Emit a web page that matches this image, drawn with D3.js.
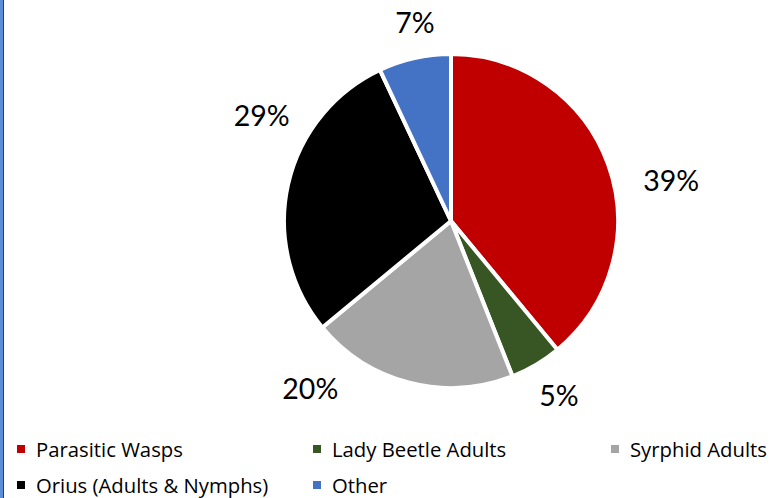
<!DOCTYPE html>
<html>
<head>
<meta charset="utf-8">
<script src="https://cdn.jsdelivr.net/npm/d3@7"></script>
<style>
  html, body { margin: 0; padding: 0; background: #fff; }
  svg { display: block; }
</style>
</head>
<body>
<svg id="chart" width="783" height="498"></svg>
<script>
const categories = ["Parasitic Wasps", "Lady Beetle Adults", "Syrphid Adults", "Orius (Adults & Nymphs)", "Other"];
const values = [39, 5, 20, 29, 7];
const colors = ["#C00000", "#375623", "#A5A5A5", "#000000", "#4472C4"];

// layout (label placement in polar terms: degrees clockwise from top, distance from centre)
const labelPolar = [[79.4, 224], [148.2, 205], [220.2, 218], [299.3, 217], [349.7, 202]];

const W = 783, H = 498;
const cx = 451, cy = 221, R = 167;
const svg = d3.select("#chart");

// left border
svg.append("rect").attr("x", 0).attr("y", 0).attr("width", 3).attr("height", H).attr("fill", "#5B8FD9");
svg.append("line").attr("x1", 3.5).attr("x2", 3.5).attr("y1", 0).attr("y2", H).attr("stroke", "#2a3f66").attr("stroke-width", 1);

const pie = d3.pie().sort(null).value(d => d)(values);
const arc = d3.arc().innerRadius(0).outerRadius(R);

const g = svg.append("g").attr("transform", `translate(${cx},${cy})`);
g.selectAll("path.slice").data(pie).join("path")
  .attr("class", "slice")
  .attr("d", arc)
  .attr("fill", (d, i) => colors[i])
  .attr("stroke", "#fff")
  .attr("stroke-width", 4)
  .attr("stroke-linejoin", "round");

const fmt = v => d3.format(".0%")(v / d3.sum(values));
g.selectAll("text.lbl").data(pie).join("text")
  .attr("class", "lbl")
  .attr("x", (d, i) => labelPolar[i][1] * Math.sin(labelPolar[i][0] * Math.PI / 180))
  .attr("y", (d, i) => -labelPolar[i][1] * Math.cos(labelPolar[i][0] * Math.PI / 180))
  .attr("text-anchor", "middle")
  .attr("dominant-baseline", "central")
  .attr("font-family", "Lato, 'Open Sans', sans-serif")
  .attr("font-size", 28.5)
  .attr("fill", "#000")
  .text(d => fmt(d.data));

// legend
const legendCols = [17, 313, 611];
const legendRows = [449, 485];
const leg = svg.append("g");
categories.forEach((c, i) => {
  const col = i % 3, row = Math.floor(i / 3);
  const x = legendCols[col], y = legendRows[row];
  leg.append("rect").attr("x", x).attr("y", y - 4).attr("width", 8).attr("height", 8).attr("fill", colors[i]);
  leg.append("text").attr("x", x + 19).attr("y", y)
    .attr("dominant-baseline", "central")
    .attr("font-family", "'Open Sans', sans-serif")
    .attr("font-size", 20.3)
    .attr("fill", "#000")
    .text(c);
});
</script>
</body>
</html>
